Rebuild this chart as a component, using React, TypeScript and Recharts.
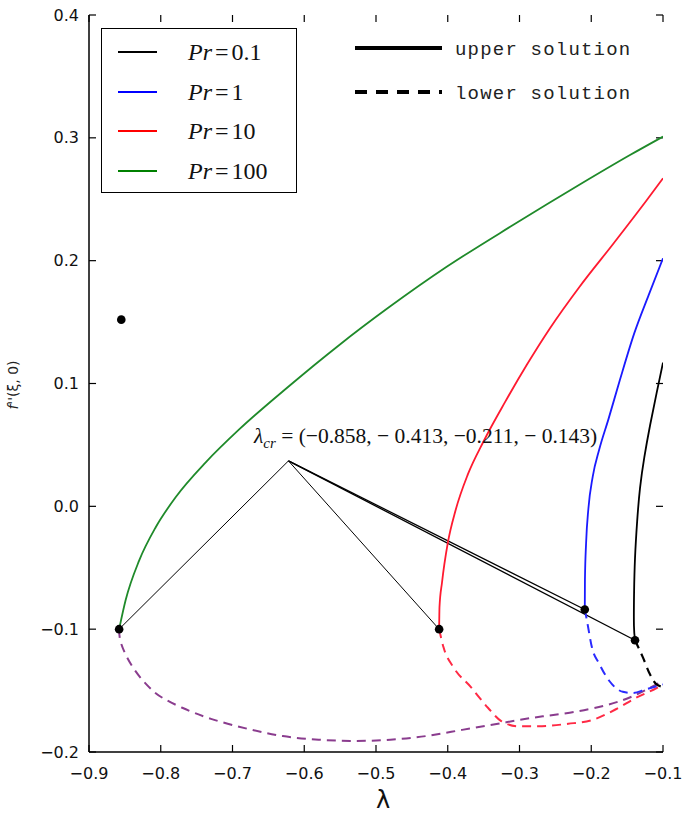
import React from 'react';
import { ComposedChart, Line, Scatter, XAxis, YAxis, ReferenceLine } from 'recharts';

const W = 685;
const H = 816;

const X_TICKS = [-0.9, -0.8, -0.7, -0.6, -0.5, -0.4, -0.3, -0.2, -0.1];
const Y_TICKS = [-0.2, -0.1, 0.0, 0.1, 0.2, 0.3, 0.4];
const X_MIN = -0.9;
const X_MAX = -0.1;
const Y_MIN = -0.2;
const Y_MAX = 0.4;

// upper solutions (solid)
const pr100UpLam = [-0.858, -0.849, -0.83, -0.807, -0.779, -0.737, -0.69, -0.621, -0.552, -0.482, -0.4015, -0.309, -0.216, -0.146, -0.1];
const pr100UpF = [-0.1, -0.0765, -0.044, -0.017, 0.0076, 0.036, 0.063, 0.098, 0.131, 0.162, 0.195, 0.229, 0.262, 0.286, 0.301];

const pr10UpLam = [-0.412, -0.4115, -0.408, -0.4, -0.389, -0.372, -0.35, -0.32, -0.29, -0.2575, -0.216, -0.169, -0.123, -0.1];
const pr10UpF = [-0.1, -0.082, -0.062, -0.03, -0.003, 0.026, 0.053, 0.085, 0.115, 0.145, 0.179, 0.214, 0.249, 0.267];

const pr1UpLam = [-0.209, -0.2088, -0.2072, -0.204, -0.198, -0.189, -0.176, -0.16, -0.14, -0.12, -0.1];
const pr1UpF = [-0.084, -0.06, -0.03, -0.002, 0.024, 0.046, 0.071, 0.103, 0.141, 0.172, 0.202];

const pr01UpLam = [-0.139, -0.1405, -0.1403, -0.139, -0.136, -0.132, -0.126, -0.118, -0.109, -0.1];
const pr01UpF = [-0.109, -0.097, -0.07, -0.042, -0.012, 0.015, 0.04, 0.066, 0.092, 0.117];

// lower solutions (dashed)
const pr100LoLam = [-0.858, -0.855, -0.84, -0.82, -0.8, -0.77, -0.73, -0.68, -0.63, -0.58, -0.53, -0.48, -0.43, -0.38, -0.33, -0.28, -0.23, -0.18, -0.14, -0.1];
const pr100LoF = [-0.1, -0.112, -0.13, -0.145, -0.155, -0.164, -0.173, -0.181, -0.187, -0.19, -0.191, -0.19, -0.187, -0.182, -0.177, -0.172, -0.168, -0.162, -0.154, -0.142];

const pr10LoLam = [-0.412, -0.406, -0.392, -0.368, -0.344, -0.325, -0.302, -0.274, -0.232, -0.199, -0.165, -0.138, -0.109, -0.1];
const pr10LoF = [-0.1, -0.1146, -0.131, -0.147, -0.164, -0.175, -0.179, -0.179, -0.177, -0.174, -0.165, -0.156, -0.148, -0.145];

const pr1LoLam = [-0.209, -0.206, -0.199, -0.189, -0.175, -0.156, -0.142, -0.124, -0.1];
const pr1LoF = [-0.084, -0.093, -0.115, -0.128, -0.142, -0.151, -0.152, -0.149, -0.145];

const pr01LoLam = [-0.139, -0.128, -0.118, -0.109, -0.1];
const pr01LoF = [-0.109, -0.123, -0.137, -0.145, -0.147];

// critical points and the annotation apex
const critLam = [-0.858, -0.412, -0.209, -0.139];
const critF = [-0.1, -0.1, -0.084, -0.109];
const apex = { x: -0.622, y: 0.037 };
const strayDot = { x: -0.855, y: 0.152 };

const zip = (lam: number[], f: number[]) => lam.map((x, i) => ({ x, y: f[i] }));

const dots = [...zip(critLam, critF), strayDot];
const pointers = zip(critLam, critF).map((p) => [apex, p]);

const fmt = (v: number) => (v < 0 ? '\u2212' : '') + Math.abs(v).toFixed(1);

// inward tick length (~7px) expressed in axis units
const TICK_DX = 0.0098;
const TICK_DY = 0.0057;
const TICK_STYLE = { stroke: '#000', strokeWidth: 1.2 };
const TICK_FONT = { fontFamily: 'DejaVu Sans', fontSize: 16, fill: '#111' };

const BottomLabel = (props: any) => (
  <text x={props.x} y={props.y} textAnchor="middle" dominantBaseline="central" {...TICK_FONT}>
    {fmt(props.payload.value)}
  </text>
);

const LeftLabel = (props: any) => (
  <text x={props.x} y={props.y} textAnchor="end" dominantBaseline="central" {...TICK_FONT}>
    {fmt(props.payload.value)}
  </text>
);

const FRAME = { stroke: '#000', strokeWidth: 1.5 };

const LEGEND_ITEMS = [
  { label: '0.1', color: '#000000' },
  { label: '1', color: '#0000ff' },
  { label: '10', color: '#ff0000' },
  { label: '100', color: '#008000' },
];

export default function App() {
  return (
    <div style={{ position: 'absolute', left: 0, top: 0, width: W, height: H, background: '#fff' }}>
      <ComposedChart width={W} height={H} margin={{ top: 15, right: 22, bottom: 34, left: 39 }}>
        <XAxis
          dataKey="x" type="number" domain={[X_MIN, X_MAX]} ticks={X_TICKS} interval={0}
          allowDataOverflow height={30} tickSize={0} tickMargin={21} tickLine={false}
          axisLine={FRAME} tick={(p: any) => <BottomLabel {...p} />}
        />
        <XAxis
          xAxisId="top" orientation="top" dataKey="x" type="number" domain={[X_MIN, X_MAX]}
          allowDataOverflow height={0} tickLine={false} axisLine={FRAME} tick={false}
        />
        <YAxis
          dataKey="y" type="number" domain={[Y_MIN, Y_MAX]} ticks={Y_TICKS} interval={0}
          allowDataOverflow width={50} tickSize={0} tickMargin={10} tickLine={false}
          axisLine={FRAME} tick={(p: any) => <LeftLabel {...p} />}
        />
        <YAxis
          yAxisId="right" orientation="right" dataKey="y" type="number" domain={[Y_MIN, Y_MAX]}
          allowDataOverflow width={0} tickLine={false} axisLine={FRAME} tick={false}
        />

        {X_TICKS.map((t) => (
          <ReferenceLine key={'xb' + t} segment={[{ x: t, y: Y_MIN }, { x: t, y: Y_MIN + TICK_DY }]} {...TICK_STYLE} />
        ))}
        {X_TICKS.map((t) => (
          <ReferenceLine key={'xt' + t} segment={[{ x: t, y: Y_MAX }, { x: t, y: Y_MAX - TICK_DY }]} {...TICK_STYLE} />
        ))}
        {Y_TICKS.map((t) => (
          <ReferenceLine key={'yl' + t} segment={[{ x: X_MIN, y: t }, { x: X_MIN + TICK_DX, y: t }]} {...TICK_STYLE} />
        ))}
        {Y_TICKS.map((t) => (
          <ReferenceLine key={'yr' + t} segment={[{ x: X_MAX, y: t }, { x: X_MAX - TICK_DX, y: t }]} {...TICK_STYLE} />
        ))}

        {pointers.map((seg, i) => (
          <Line key={'ptr' + i} data={seg} dataKey="y" type="linear" stroke="#000"
            strokeWidth={i >= 2 ? 1.3 : 1} dot={false} isAnimationActive={false} />
        ))}

        <Line data={zip(pr100LoLam, pr100LoF)} dataKey="y" type="natural" stroke="#8a3c8e" strokeWidth={2} strokeDasharray="9 6" dot={false} isAnimationActive={false} />
        <Line data={zip(pr10LoLam, pr10LoF)} dataKey="y" type="monotone" stroke="#ff2a45" strokeWidth={2} strokeDasharray="9 6" dot={false} isAnimationActive={false} />
        <Line data={zip(pr1LoLam, pr1LoF)} dataKey="y" type="monotone" stroke="#2a2aff" strokeWidth={2} strokeDasharray="9 6" dot={false} isAnimationActive={false} />
        <Line data={zip(pr01LoLam, pr01LoF)} dataKey="y" type="monotone" stroke="#000" strokeWidth={2.2} strokeDasharray="9 6" dot={false} isAnimationActive={false} />

        <Line data={zip(pr100UpLam, pr100UpF)} dataKey="y" type="monotone" stroke="#1f8a2a" strokeWidth={1.8} dot={false} isAnimationActive={false} />
        <Line data={zip(pr10UpLam, pr10UpF)} dataKey="y" type="monotone" stroke="#ff1a30" strokeWidth={1.8} dot={false} isAnimationActive={false} />
        <Line data={zip(pr1UpLam, pr1UpF)} dataKey="y" type="monotone" stroke="#1a1aff" strokeWidth={1.8} dot={false} isAnimationActive={false} />
        <Line data={zip(pr01UpLam, pr01UpF)} dataKey="y" type="natural" stroke="#000" strokeWidth={1.8} dot={false} isAnimationActive={false} />

        <Scatter data={dots} fill="#000" isAnimationActive={false}
          shape={(p: any) => <circle cx={p.cx} cy={p.cy} r={4.3} fill="#000" />} />
      </ComposedChart>

      {/* y label */}
      <div style={{
        position: 'absolute', left: 13, top: 385, transform: 'translate(-50%, -50%) rotate(-90deg)',
        fontFamily: 'DejaVu Sans', fontSize: 14, color: '#222', whiteSpace: 'nowrap',
      }}>
        <i>f</i>''(ξ, 0)
      </div>

      {/* x label */}
      <div style={{
        position: 'absolute', left: 383, top: 800, transform: 'translate(-50%, -50%)',
        fontFamily: 'DejaVu Sans', fontSize: 24, color: '#111',
      }}>
        λ
      </div>

      {/* annotation */}
      <div style={{
        position: 'absolute', left: 254, top: 438, transform: 'translateY(-50%)',
        fontFamily: 'Liberation Serif', fontSize: 21.5, color: '#111', whiteSpace: 'nowrap',
      }}>
        <i>λ</i><sub style={{ fontStyle: 'italic', fontSize: 15 }}>cr</sub> = (−0.858, − 0.413, −0.211, − 0.143)
      </div>

      {/* Pr legend */}
      <div style={{
        position: 'absolute', left: 101, top: 28, width: 194, height: 163,
        border: '1.5px solid #000', background: '#fff',
      }} />
      {LEGEND_ITEMS.map((it, i) => (
        <div key={it.label} style={{ position: 'absolute', left: 0, top: 52 + i * 39.5 }}>
          <div style={{ position: 'absolute', left: 118, top: -1, width: 39, height: 2, background: it.color }} />
          <div style={{
            position: 'absolute', left: 188, top: 0, transform: 'translateY(-50%)',
            fontFamily: 'Liberation Serif', fontSize: 24, color: '#111', whiteSpace: 'nowrap',
          }}>
            <i>Pr</i><span style={{ margin: '0 3px' }}>=</span>{it.label}
          </div>
        </div>
      ))}

      {/* solution style legend */}
      <svg style={{ position: 'absolute', left: 350, top: 36 }} width={100} height={70}>
        <line x1={5} y1={12} x2={92} y2={12} stroke="#000" strokeWidth={4} />
        <line x1={5} y1={56} x2={92} y2={56} stroke="#000" strokeWidth={4} strokeDasharray="12 9" />
      </svg>
      <div style={{
        position: 'absolute', left: 455, top: 50, transform: 'translateY(-50%)',
        fontFamily: 'Liberation Mono', fontSize: 19, letterSpacing: 1.2, color: '#222', whiteSpace: 'pre',
      }}>upper solution</div>
      <div style={{
        position: 'absolute', left: 455, top: 94, transform: 'translateY(-50%)',
        fontFamily: 'Liberation Mono', fontSize: 19, letterSpacing: 1.2, color: '#222', whiteSpace: 'pre',
      }}>lower solution</div>
    </div>
  );
}
